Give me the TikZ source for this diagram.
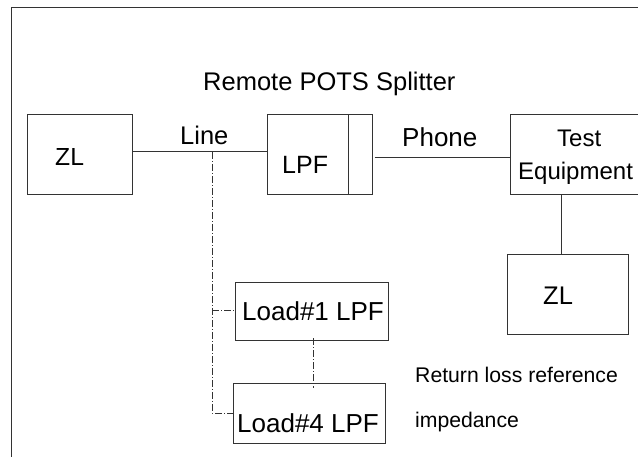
\documentclass[tikz,border=0pt]{standalone}
\usepackage{fontspec}
\setmainfont{Liberation Sans}
\begin{document}
\begin{tikzpicture}[x=1pt,y=-1pt,
  ln/.style={draw=black!80, line width=1pt},
  dd/.style={draw=black!80, line width=0.9pt, dash pattern=on 7pt off 2pt on 1pt off 2pt},
  box/.style={ln, rectangle, inner sep=0pt},
  lbl/.style={anchor=base west, inner sep=0pt, text=black},
]
\useasboundingbox (0,0) rectangle (638,457);
\begin{scope}
\clip (0,0) rectangle (638,457);
% outer frame
\draw[ln] (11.5,470) -- (11.5,7.5) -- (650,7.5);
% boxes
\node[box, minimum width=105pt, minimum height=80pt] (zl1) at (79.5,155) {};
\node[box, minimum width=105pt, minimum height=80pt] (lpf) at (319.5,155) {};
\draw[ln] ([xshift=-24.5pt]lpf.north east) -- ([xshift=-24.5pt]lpf.south east);
\node[box, minimum width=134.5pt, minimum height=80pt] (test) at (577.75,155) {};
\node[box, minimum width=121pt, minimum height=80pt] (zl2) at (567.5,295) {};
\node[box, minimum width=153pt, minimum height=58pt] (load1) at (311.5,312) {};
\node[box, minimum width=152pt, minimum height=59pt] (load4) at (309,413.5) {};
% texts
\node[lbl, font=\fontsize{25.5}{28}\selectfont] (title) at (203,91) {Remote POTS Splitter};
\node[lbl, font=\fontsize{25.5}{28}\selectfont] (linel) at (180,144.3) {Line};
\node[lbl, font=\fontsize{24.7}{28}\selectfont] (zl1t) at (55,166) {ZL};
\node[lbl, font=\fontsize{25}{28}\selectfont] (lpft) at (282,174) {LPF};
\node[lbl, font=\fontsize{26}{28}\selectfont] (phone) at (402,147) {Phone};
\node[lbl, font=\fontsize{24}{28}\selectfont] (testt) at (557,147) {Test};
\node[lbl, font=\fontsize{24}{28}\selectfont] (equip) at (518,180) {Equipment};
\node[lbl, font=\fontsize{25.5}{28}\selectfont] (zl2t) at (543,305) {ZL};
\node[lbl, font=\fontsize{26}{28}\selectfont] (load1t) at (242,321) {Load\#1 LPF};
\node[lbl, font=\fontsize{26}{28}\selectfont] (load4t) at (237,432) {Load\#4 LPF};
\node[lbl, font=\fontsize{21.2}{24}\selectfont] (rl) at (415,383) {Return loss reference};
\node[lbl, font=\fontsize{21.2}{24}\selectfont] (imp) at (415,428) {impedance};
% connectors
\draw[ln] (zl1.east |- 0,152) -- (lpf.west |- 0,152);
\draw[ln] ([xshift=2pt]lpf.east |- 0,157.3) -- (test.west |- 0,157.3);
\draw[ln] (test.south -| 561,0) -- (zl2.north -| 561,0);
\coordinate (tap) at (212,152);
\coordinate (bot) at (212,413);
\draw[dd] (tap) -- (bot) -- (load4.west |- bot);
\draw[dd] (212,310) -- (load1.west |- 0,310);
\draw[dd] ([yshift=3pt]load1.south -| 313,0) -- ([yshift=-5pt]load4.north -| 313,0);
\end{scope}
\end{tikzpicture}
\end{document}
